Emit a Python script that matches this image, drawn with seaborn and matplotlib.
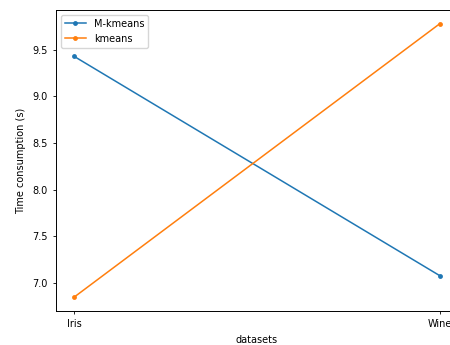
import matplotlib
matplotlib.use("Agg")
import matplotlib.pyplot as plt
import seaborn as sns
import pandas as pd

datasets = ["Iris", "Wine"]
m_kmeans = [9.43, 7.08]
kmeans = [6.85, 9.78]

df = pd.DataFrame({
    "datasets": datasets * 2,
    "time": m_kmeans + kmeans,
    "method": ["M-kmeans"] * 2 + ["kmeans"] * 2,
})

plt.rcParams["font.family"] = ["DejaVu Sans"]
plt.rcParams["font.size"] = 7

fig = plt.figure(figsize=(4.5, 3.45), dpi=100)
ax = fig.add_axes([0.124, 0.099, 0.894, 0.872])

palette = {"M-kmeans": "#1f77b4", "kmeans": "#ff7f0e"}
sns.lineplot(data=df, x="datasets", y="time", hue="method", palette=palette,
             marker="o", markersize=3.5, markeredgewidth=0, linewidth=1.1, ax=ax)

ax.set_xlabel("datasets", fontsize=7)
ax.set_ylabel("Time consumption (s)", fontsize=7)
ax.set_yticks([7.0, 7.5, 8.0, 8.5, 9.0, 9.5])
ax.tick_params(labelsize=7, length=2.5, width=0.6)
for s in ax.spines.values():
    s.set_linewidth(0.7)
ax.legend(loc="upper left", fontsize=7, frameon=True, handlelength=2.2)

fig.savefig("out.png", dpi=100)
